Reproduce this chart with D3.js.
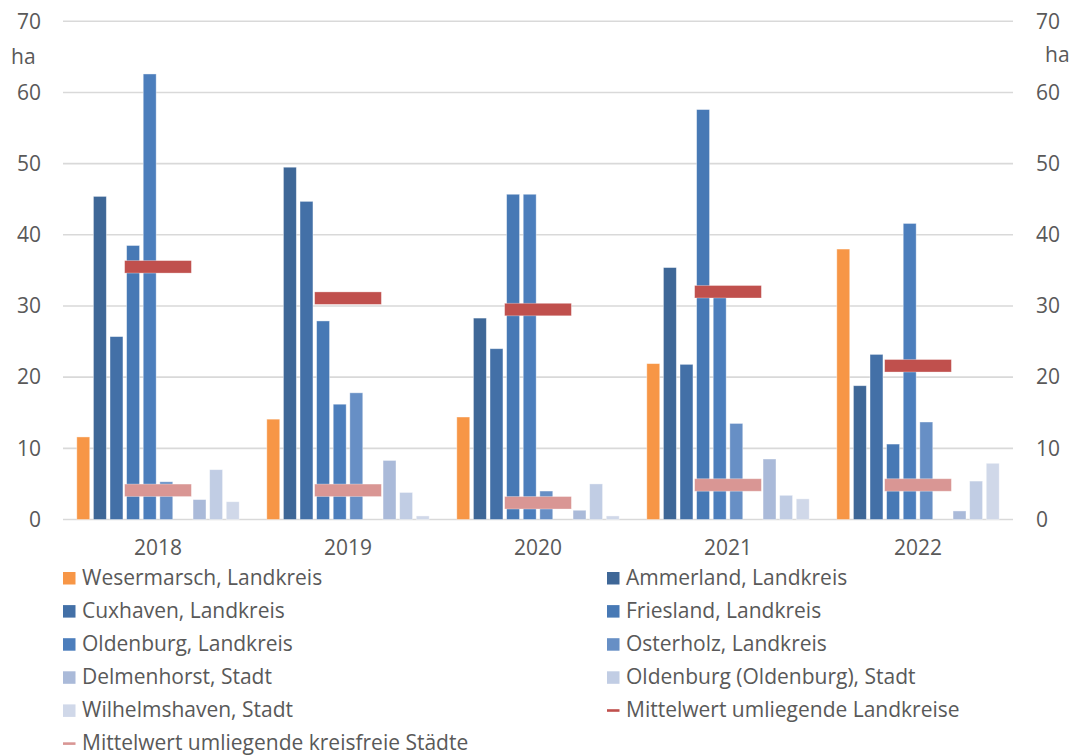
<!DOCTYPE html>
<html><head><meta charset="utf-8">
<script src="https://cdn.jsdelivr.net/npm/d3@7"></script>
<style>
html,body{margin:0;padding:0;background:#fff;}
text{font-family:"Open Sans",sans-serif;fill:#595959;}
</style></head>
<body>
<svg id="chart" width="1075" height="756"></svg>
<script>
const years = ["2018","2019","2020","2021","2022"];
const yTicks = [0,10,20,30,40,50,60,70];
const unitLabel = "ha";

const seriesNames = ["Wesermarsch, Landkreis","Ammerland, Landkreis","Cuxhaven, Landkreis","Friesland, Landkreis","Oldenburg, Landkreis","Osterholz, Landkreis","Delmenhorst, Stadt","Oldenburg (Oldenburg), Stadt","Wilhelmshaven, Stadt"];
const seriesColors = ["#F79646","#3E6797","#4370A7","#4779B5","#4C7EBC","#678FC5","#AABAD9","#C1CDE4","#D0D8E9"];
const seriesSlots = [0,1,2,3,4,5,7,8,9];   // slot 6 is empty in the original

const wesermarsch    = [11.6, 14.1, 14.4, 21.9, 38.0];
const ammerland      = [45.4, 49.5, 28.3, 35.4, 18.8];
const cuxhaven       = [25.7, 44.7, 24.0, 21.8, 23.2];
const friesland      = [38.5, 27.9, 45.7, 57.6, 10.6];
const oldenburgLK    = [62.6, 16.2, 45.7, 31.2, 41.6];
const osterholz      = [5.3, 17.8, 4.0, 13.5, 13.7];
const delmenhorst    = [2.8, 8.3, 1.3, 8.5, 1.2];
const oldenburgStadt = [7.0, 3.8, 5.0, 3.4, 5.4];
const wilhelmshaven  = [2.5, 0.5, 0.5, 2.9, 7.9];

const meanLandkreise = [35.5, 31.1, 29.5, 32.0, 21.6];
const meanStaedte    = [4.1, 4.1, 2.35, 4.85, 4.85];
const meanNames  = ["Mittelwert umliegende Landkreise","Mittelwert umliegende kreisfreie Städte"];
const meanColors = ["#C0504D","#D99694"];

const seriesValues = [wesermarsch, ammerland, cuxhaven, friesland, oldenburgLK, osterholz, delmenhorst, oldenburgStadt, wilhelmshaven];

const FS = 21;
const svg = d3.select("#chart");
const plotL = 63, plotR = 1013, plotT = 21.3, plotB = 519.5;

const x = d3.scaleBand().domain(years).range([plotL, plotR]).padding(0);
const y = d3.scaleLinear().domain([0,70]).range([plotB, plotT]);
const groupPad = x.bandwidth() * 0.063;
const xs = d3.scaleBand().domain(d3.range(10)).range([groupPad, x.bandwidth() - groupPad]).padding(0);

// gridlines
svg.append("g").selectAll("line").data(yTicks).join("line")
  .attr("x1", plotL).attr("x2", plotR)
  .attr("y1", d => y(d)).attr("y2", d => y(d))
  .attr("stroke", "#D9D9D9").attr("stroke-width", 1.6);

// left axis
const leftAxis = d3.axisLeft(y).tickValues(yTicks).tickSize(0).tickPadding(0);
const gl = svg.append("g").attr("transform", `translate(41,0)`).call(leftAxis);
gl.select(".domain").remove();
gl.selectAll("text").attr("font-size", FS).attr("fill", "#595959").attr("font-family", "Open Sans");

const rightAxis = d3.axisRight(y).tickValues(yTicks).tickSize(0).tickPadding(0);
const gr = svg.append("g").attr("transform", `translate(1036,0)`).call(rightAxis);
gr.select(".domain").remove();
gr.selectAll("text").attr("font-size", FS).attr("fill", "#595959").attr("font-family", "Open Sans");

svg.append("text").attr("x", 11).attr("y", 57).attr("dy", "0.35em").attr("font-size", FS).text(unitLabel);
svg.append("text").attr("x", 1045).attr("y", 55).attr("dy", "0.35em").attr("font-size", FS).text(unitLabel);

// bars
const barW = xs.bandwidth() * 0.78;
seriesValues.forEach((vals, si) => {
  svg.append("g").selectAll("rect").data(vals.map((v,i)=>({year: years[i], v}))).join("rect")
    .attr("x", d => x(d.year) + xs(seriesSlots[si]) + (xs.bandwidth() - barW)/2)
    .attr("y", d => y(d.v))
    .attr("width", barW)
    .attr("height", d => y(0) - y(d.v))
    .attr("fill", seriesColors[si])
    .attr("stroke", "#ffffff").attr("stroke-opacity", 0.5).attr("stroke-width", 0.8);
});

// mean markers
const markW = xs.bandwidth() * 4.02, markH = 12.5;
[meanLandkreise, meanStaedte].forEach((vals, mi) => {
  svg.append("g").selectAll("rect").data(vals.map((v,i)=>({year: years[i], v}))).join("rect")
    .attr("x", d => x(d.year) + x.bandwidth()/2 - markW/2)
    .attr("y", d => y(d.v) - markH/2)
    .attr("width", markW).attr("height", markH)
    .attr("fill", meanColors[mi])
    .attr("stroke", "#ffffff").attr("stroke-opacity", 0.4).attr("stroke-width", 0.8);
});

// category labels
const bottomAxis = d3.axisBottom(x).tickSize(0).tickPadding(0);
const gb = svg.append("g").attr("transform", `translate(0,${plotB + 21})`).call(bottomAxis);
gb.select(".domain").remove();
gb.selectAll("text").attr("font-size", FS).attr("fill", "#595959").attr("font-family", "Open Sans").attr("dy", "0.71em");

// legend
const legendItems = seriesNames.map((n,i)=>({name:n, color:seriesColors[i], type:"box"}))
  .concat(meanNames.map((n,i)=>({name:n, color:meanColors[i], type:"line"})));
const colX = [63, 607], rowY0 = 578, rowH = 33.1;
const lg = svg.append("g");
legendItems.forEach((it, i) => {
  const cx = colX[i % 2], cy = rowY0 + Math.floor(i/2) * rowH;
  if (it.type === "box") {
    lg.append("rect").attr("x", cx).attr("y", cy - 6).attr("width", 12.5).attr("height", 12.5).attr("fill", it.color);
  } else {
    lg.append("rect").attr("x", cx).attr("y", cy - 1.2).attr("width", 12.5).attr("height", 2.6).attr("fill", it.color);
  }
  lg.append("text").attr("x", cx + 19).attr("y", cy).attr("dy", "0.33em").attr("font-size", FS).text(it.name);
});
</script>
</body></html>
